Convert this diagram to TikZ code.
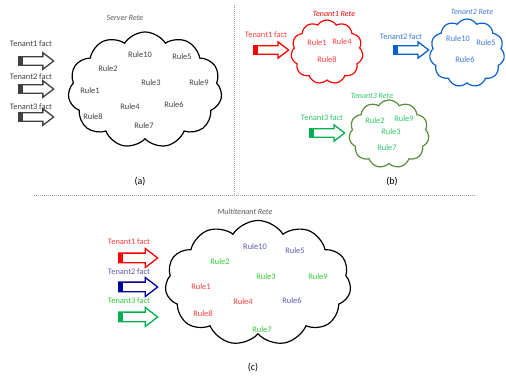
\documentclass[tikz,border=0pt]{standalone}
\usepackage{fontspec}
\setmainfont{Carlito}
\usetikzlibrary{shapes.symbols,shapes.arrows}

% tenant colours
\definecolor{darkgraytxt}{HTML}{404040}
\definecolor{titlegray}{HTML}{595959}
\definecolor{tonered}{HTML}{FF0000}
\definecolor{tonetxt}{HTML}{FF4040}
\definecolor{ttwoblue}{HTML}{0A5FD0}
\definecolor{ttwotxt}{HTML}{3F7AE0}
\definecolor{tthreeolive}{HTML}{5B8A3A}
\definecolor{tthreegreen}{HTML}{00B050}
\definecolor{tthreetxt}{HTML}{2EC86A}
\definecolor{mixred}{HTML}{FF3B3B}
\definecolor{mixpurple}{HTML}{5A5AB4}
\definecolor{mixgreen}{HTML}{33CC33}
\definecolor{mixnavy}{HTML}{000099}

\begin{document}
\begin{tikzpicture}[x=1pt,y=-1pt,
  font=\fontsize{8.4}{9}\selectfont,
  cloudbox/.style={cloud, cloud puffs=11, cloud puff arc=115, cloud ignores aspect,
    draw=#1, line width=1.2pt, inner sep=0pt},
  factarrow/.style={single arrow, anchor=tail, draw=#1, line width=1.3pt, fill=white,
    inner xsep=0pt, inner ysep=3.6pt, single arrow head extend=4pt,
    single arrow tip angle=75, minimum height=35pt,
    path picture={\fill[#1] (path picture bounding box.north west) rectangle
      ([xshift=4.5pt]path picture bounding box.south west);}},
  bigarrow/.style={factarrow=#1, inner ysep=4.2pt, single arrow head extend=4.6pt,
    minimum height=39pt},
  title/.style={font=\fontsize{8}{9}\selectfont\itshape, text=#1},
  caption/.style={font=\fontsize{10}{11}\selectfont, text=black},
  separator/.style={gray!80, line width=0.6pt, dash pattern=on 1.2pt off 0.8pt}
]
\useasboundingbox (0,0) rectangle (506,379);

% ---------- separators ----------
\coordinate (vtop) at (234,5);
\coordinate (vbot) at (234,195);
\coordinate (hleft) at (34,195);
\coordinate (hright) at (475,195);
\draw[separator] (vtop) -- (vbot);
\draw[separator] (hleft) -- (hright);

% ---------- (a) server rete ----------
\node[title=titlegray] (tA) at (125,18) {Server Rete};
\node[cloudbox=black, minimum width=154pt, minimum height=116pt] (cloudA) at (145,90) {};
\begin{scope}[every node/.style={text=darkgraytxt}]
  \node (a10) at (140,55) {Rule10};
  \node (a5) at (182,57) {Rule5};
  \node (a2) at (108,69) {Rule2};
  \node (a3) at (151,83) {Rule3};
  \node (a9) at (199,83) {Rule9};
  \node (a1) at (90,91) {Rule1};
  \node (a4) at (130,107) {Rule4};
  \node (a6) at (174,105) {Rule6};
  \node (a8) at (93,117) {Rule8};
  \node (a7) at (144,126) {Rule7};
  \node (fa1) at (31,44) {Tenant1 fact};
  \node (fa2) at (31,77) {Tenant2 fact};
  \node (fa3) at (31,107) {Tenant3 fact};
\end{scope}
\node[factarrow=darkgraytxt] (arA1) at (18,61) {};
\node[factarrow=darkgraytxt] (arA2) at (18,89) {};
\node[factarrow=darkgraytxt] (arA3) at (18,117) {};
\node[caption] (capA) at (140,182) {(a)};

% ---------- (b) one rete per tenant ----------
\node[title=tonered] (tB1) at (334,14) {Tenant1 Rete};
\node[cloudbox=tonered, minimum width=72pt, minimum height=64pt] (cloudB1) at (327,52) {};
\begin{scope}[every node/.style={text=tonetxt}]
  \node (b1) at (317,43) {Rule1};
  \node (b4) at (342,42) {Rule4};
  \node (b8) at (327,60) {Rule8};
  \node (fb1) at (266,35) {Tenant1 fact};
\end{scope}
\node[factarrow=tonered] (arB1) at (253,50) {};

\node[title=ttwotxt] (tB2) at (472,12) {Tenant2 Rete};
\node[cloudbox=ttwoblue, minimum width=75pt, minimum height=68pt] (cloudB2) at (467,53) {};
\begin{scope}[every node/.style={text=ttwotxt}]
  \node (b10) at (458,39) {Rule10};
  \node (b5) at (486,43) {Rule5};
  \node (b6) at (465,60) {Rule6};
  \node (fb2) at (401,37) {Tenant2 fact};
\end{scope}
\node[factarrow=ttwoblue] (arB2) at (393,50) {};

\node[title=tthreetxt] (tB3) at (372,96) {Tenant3 Rete};
\node[cloudbox=tthreeolive, minimum width=80pt, minimum height=68pt] (cloudB3) at (389,134) {};
\begin{scope}[every node/.style={text=tthreetxt}]
  \node (b2) at (375,121) {Rule2};
  \node (b9) at (404,119) {Rule9};
  \node (b3) at (391,132) {Rule3};
  \node (b7) at (387,148) {Rule7};
  \node (fb3) at (322,118) {Tenant3 fact};
\end{scope}
\node[factarrow=tthreegreen] (arB3) at (309,133) {};
\node[caption] (capB) at (392,182) {(b)};

% ---------- (c) multitenant rete ----------
\node[title=titlegray] (tC) at (245,212) {Multitenant Rete};
\node[cloudbox=black, minimum width=186pt, minimum height=125pt] (cloudC) at (258,283) {};
\node[text=mixpurple] (c10) at (255,247) {Rule10};
\node[text=mixpurple] (c5) at (295,251) {Rule5};
\node[text=mixgreen] (c2) at (220,262) {Rule2};
\node[text=mixgreen] (c3) at (266,277) {Rule3};
\node[text=mixgreen] (c9) at (318,277) {Rule9};
\node[text=mixred] (c1) at (201,287) {Rule1};
\node[text=mixred] (c4) at (243,302) {Rule4};
\node[text=mixpurple] (c6) at (292,301) {Rule6};
\node[text=mixred] (c8) at (203,314) {Rule8};
\node[text=mixgreen] (c7) at (262,330) {Rule7};
\node[text=mixred] (fc1) at (129,242) {Tenant1 fact};
\node[text=mixpurple] (fc2) at (129,272) {Tenant2 fact};
\node[text=mixgreen] (fc3) at (129,301) {Tenant3 fact};
\node[bigarrow=tonered] (arC1) at (118,258) {};
\node[bigarrow=mixnavy] (arC2) at (118,287) {};
\node[bigarrow=tthreegreen] (arC3) at (118,317) {};
\node[caption] (capC) at (253,368) {(c)};
\end{tikzpicture}
\end{document}
